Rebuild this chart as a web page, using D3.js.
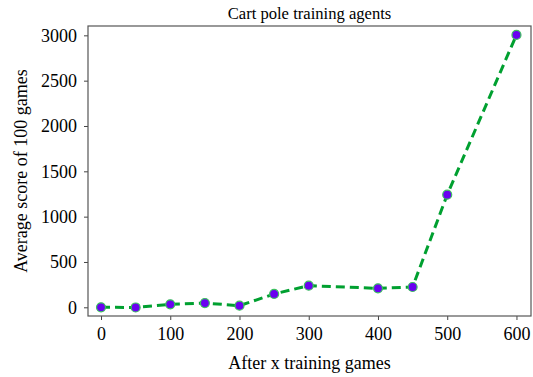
<!DOCTYPE html>
<html>
<head>
<meta charset="utf-8">
<script src="https://cdn.jsdelivr.net/npm/d3@7"></script>
<style>
  body { margin: 0; background: #fff; }
  text { font-family: "Liberation Serif", "Times New Roman", serif; fill: #000; }
</style>
</head>
<body>
<svg id="chart" width="533" height="377"></svg>
<script>
const games = [0, 50, 100, 150, 200, 250, 300, 400, 450, 500, 600];
const scores = [0, -2, 33, 47, 18, 147, 239, 209, 224, 1242, 3005];
const xTicks = [0, 100, 200, 300, 400, 500, 600];
const yTicks = [0, 500, 1000, 1500, 2000, 2500, 3000];

const width = 533;
const height = 377;
const box = { left: 88, right: 531, top: 26, bottom: 316 };
const serif = "'Liberation Serif', 'Times New Roman', serif";

const svg = d3.select("#chart");

// axis limits chosen so the frame edges land where the original has them
const x = d3.scaleLinear()
  .domain([-18.8, 621])
  .range([box.left, box.right]);

const y = d3.scaleLinear()
  .domain([-96, 3103])
  .range([box.bottom, box.top]);

const xAxis = svg.append("g")
  .attr("transform", `translate(0, ${box.bottom})`)
  .call(d3.axisBottom(x).tickValues(xTicks).tickSize(4).tickPadding(7).tickFormat(d3.format("d")));

const yAxis = svg.append("g")
  .attr("transform", `translate(${box.left}, 0)`)
  .call(d3.axisLeft(y).tickValues(yTicks).tickSize(4).tickPadding(7).tickFormat(d3.format("d")));

[xAxis, yAxis].forEach(g => {
  g.attr("font-family", serif).attr("font-size", 18);
  g.select(".domain").remove();
  g.selectAll(".tick line").attr("stroke", "#444");
  g.selectAll(".tick text")
    .style("font-family", serif)
    .style("font-size", "18px")
    .attr("fill", "#000");
});

svg.append("rect")
  .attr("x", box.left)
  .attr("y", box.top)
  .attr("width", box.right - box.left)
  .attr("height", box.bottom - box.top)
  .attr("fill", "none")
  .attr("stroke", "#555")
  .attr("stroke-width", 1.2);

const pts = games.map((g, i) => ({ g: g, s: scores[i] }));

const line = d3.line()
  .x(d => x(d.g))
  .y(d => y(d.s));

svg.append("path")
  .attr("d", line(pts))
  .attr("fill", "none")
  .attr("stroke", "#00a030")
  .attr("stroke-width", 3)
  .attr("stroke-dasharray", "9,5");

svg.selectAll("circle.pt")
  .data(pts)
  .join("circle")
  .attr("class", "pt")
  .attr("cx", d => x(d.g))
  .attr("cy", d => y(d.s))
  .attr("r", 4.5)
  .attr("fill", "#6a00f0")
  .attr("stroke", "#3cc060")
  .attr("stroke-width", 1.2);

svg.append("text")
  .attr("x", (box.left + box.right) / 2)
  .attr("y", 18.5)
  .attr("text-anchor", "middle")
  .style("font-size", "16.6px")
  .text("Cart pole training agents");

svg.append("text")
  .attr("x", (box.left + box.right) / 2)
  .attr("y", 369)
  .attr("text-anchor", "middle")
  .style("font-size", "18px")
  .text("After x training games");

svg.append("text")
  .attr("transform", `translate(27, ${(box.top + box.bottom) / 2}) rotate(-90)`)
  .attr("text-anchor", "middle")
  .style("font-size", "18px")
  .text("Average score of 100 games");
</script>
</body>
</html>
